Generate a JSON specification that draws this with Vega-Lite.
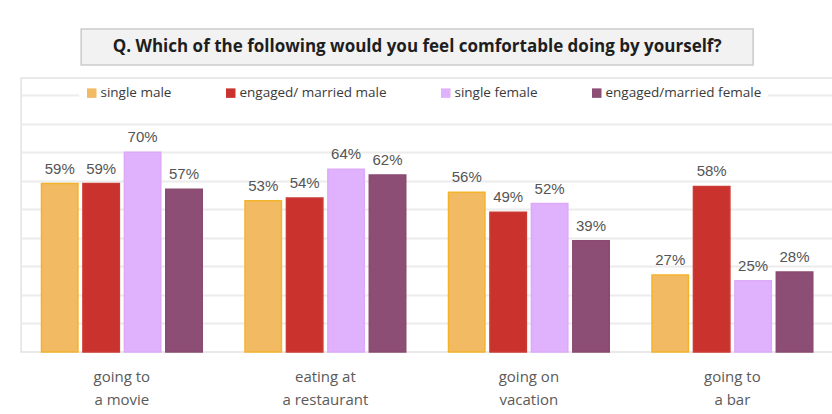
{
  "$schema": "https://vega.github.io/schema/vega-lite/v6.json",
  "background": "#ffffff",
  "padding": {"left": 20, "top": 28, "right": 0, "bottom": 0},
  "spacing": 11,
  "center": true,
  "config": {
    "font": "Open Sans",
    "axis": {"labelFont": "Open Sans", "titleFont": "Open Sans"}
  },
  "vconcat": [
    {
      "width": 672,
      "height": 36,
      "view": {"fill": "#f2f2f2", "stroke": "#cbcbcb", "strokeWidth": 1.5},
      "data": {"values": [{"q": "Q. Which of the following would you feel comfortable doing by yourself?"}]},
      "mark": {"type": "text", "font": "Open Sans", "fontSize": 17, "fontWeight": "bold", "color": "#1e1e1e"},
      "encoding": {
        "y": {"field": "q", "type": "nominal", "axis": {"orient": "right", "labels": false, "ticks": false, "domain": false, "title": null, "minExtent": 20, "maxExtent": 20}},
        "text": {"field": "q"}
      }
    },
    {
      "width": 812,
      "height": 274,
      "view": {"stroke": "#e2e2e2", "strokeWidth": 1.5, "fill": null},
      "data": {"values": [
        {"activity": "going to|a movie", "group": "single male", "pct": 0.59},
        {"activity": "going to|a movie", "group": "engaged/ married male", "pct": 0.59},
        {"activity": "going to|a movie", "group": "single female", "pct": 0.70},
        {"activity": "going to|a movie", "group": "engaged/married female", "pct": 0.57},
        {"activity": "eating at|a restaurant", "group": "single male", "pct": 0.53},
        {"activity": "eating at|a restaurant", "group": "engaged/ married male", "pct": 0.54},
        {"activity": "eating at|a restaurant", "group": "single female", "pct": 0.64},
        {"activity": "eating at|a restaurant", "group": "engaged/married female", "pct": 0.62},
        {"activity": "going on|vacation", "group": "single male", "pct": 0.56},
        {"activity": "going on|vacation", "group": "engaged/ married male", "pct": 0.49},
        {"activity": "going on|vacation", "group": "single female", "pct": 0.52},
        {"activity": "going on|vacation", "group": "engaged/married female", "pct": 0.39},
        {"activity": "going to|a bar", "group": "single male", "pct": 0.27},
        {"activity": "going to|a bar", "group": "engaged/ married male", "pct": 0.58},
        {"activity": "going to|a bar", "group": "single female", "pct": 0.25},
        {"activity": "going to|a bar", "group": "engaged/married female", "pct": 0.28}
      ]},
      "encoding": {
        "x": {
          "field": "activity", "type": "nominal", "sort": null,
          "scale": {"paddingInner": 0.21, "paddingOuter": 0.1},
          "axis": {
            "title": null, "domain": false, "ticks": false, "labelAngle": 0,
            "labelExpr": "split(datum.value, '|')",
            "labelFontSize": 15, "labelColor": "#5a5a5a", "labelPadding": 17,
            "labelLineHeight": 23, "labelBaseline": "top"
          }
        },
        "xOffset": {"field": "group", "type": "nominal", "sort": null, "scale": {"paddingInner": 0.12}},
        "y": {
          "field": "pct", "type": "quantitative",
          "scale": {"domain": [0, 0.96], "nice": false, "zero": true},
          "axis": {
            "title": null, "labels": false, "ticks": false, "domain": false,
            "values": [0.1, 0.2, 0.3, 0.4, 0.5, 0.6, 0.7, 0.8, 0.9],
            "grid": true, "gridColor": "#ececec", "gridWidth": 2,
            "minExtent": 0, "maxExtent": 0
          }
        }
      },
      "layer": [
        {
          "mark": {"type": "bar", "strokeWidth": 1.5},
          "encoding": {
            "color": {
              "field": "group", "type": "nominal", "sort": null,
              "scale": {
                "domain": ["single male", "engaged/ married male", "single female", "engaged/married female"],
                "range": ["#f2ba63", "#c9322d", "#e0b1fd", "#8c4e74"]
              },
              "legend": {
                "title": null, "orient": "none", "direction": "horizontal",
                "legendX": 58, "legendY": 51, "padding": 6, "fillColor": "#ffffff",
                "symbolType": "square", "symbolSize": 90, "symbolStrokeWidth": 0,
                "labelFont": "Open Sans", "labelFontSize": 13.5, "labelColor": "#3a3a3a",
                "labelOffset": 2, "columnPadding": 52, "labelLimit": 300
              }
            },
            "stroke": {
              "field": "group", "type": "nominal", "sort": null,
              "scale": {
                "domain": ["single male", "engaged/ married male", "single female", "engaged/married female"],
                "range": ["#f3b42c", "#cc3a35", "#ddaafa", "#8a4a71"]
              },
              "legend": null
            }
          }
        },
        {
          "mark": {"type": "text", "baseline": "alphabetic", "dy": -10, "font": "Liberation Sans", "fontSize": 15, "color": "#555555"},
          "encoding": {
            "text": {"field": "pct", "type": "quantitative", "format": ".0%"}
          }
        }
      ]
    }
  ]
}
